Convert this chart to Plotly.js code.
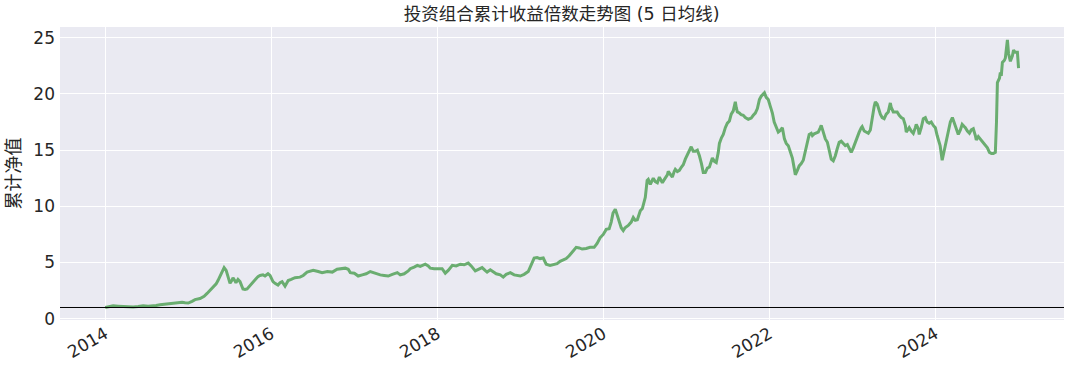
<!DOCTYPE html>
<html>
<head>
<meta charset="utf-8">
<script src="https://cdn.plot.ly/plotly-3.0.1.min.js"></script>
<style>html,body{margin:0;padding:0;background:#fff}#chart{width:1077px;height:374px}</style>
</head>
<body>
<div id="chart"></div>
<script>
// Decimal-year time stamps
const years = [
2014.000,2014.048,2014.096,2014.157,2014.217,2014.277,2014.337,2014.398,2014.458,2014.518,
2014.566,2014.614,2014.663,2014.723,2014.783,2014.831,2014.880,2014.928,2014.964,2015.000,
2015.048,2015.084,2015.145,2015.193,2015.229,2015.265,2015.301,2015.337,2015.361,2015.386,
2015.410,2015.434,2015.458,2015.482,2015.506,2015.530,2015.542,2015.566,2015.578,2015.602,
2015.627,2015.663,2015.687,2015.711,2015.747,2015.783,2015.807,2015.843,2015.867,2015.904,
2015.928,2015.964,2015.988,2016.024,2016.048,2016.084,2016.108,2016.133,2016.169,2016.205,
2016.241,2016.289,2016.349,2016.386,2016.434,2016.506,2016.566,2016.614,2016.675,2016.735,
2016.795,2016.843,2016.892,2016.928,2016.952,2017.000,2017.048,2017.096,2017.145,2017.193,
2017.241,2017.277,2017.313,2017.361,2017.410,2017.458,2017.518,2017.554,2017.602,2017.651,
2017.675,2017.723,2017.759,2017.795,2017.831,2017.855,2017.892,2017.916,2017.964,2018.012,
2018.060,2018.096,2018.133,2018.181,2018.229,2018.277,2018.325,2018.373,2018.410,2018.458,
2018.494,2018.542,2018.578,2018.602,2018.639,2018.675,2018.711,2018.759,2018.795,2018.831,
2018.880,2018.928,2018.964,2019.000,2019.048,2019.096,2019.133,2019.169,2019.205,2019.241,
2019.277,2019.313,2019.361,2019.410,2019.446,2019.482,2019.518,2019.554,2019.590,2019.639,
2019.675,2019.711,2019.747,2019.795,2019.843,2019.892,2019.928,2019.964,2020.000,2020.036,
2020.072,2020.096,2020.120,2020.145,2020.169,2020.193,2020.217,2020.241,2020.265,2020.301,
2020.337,2020.361,2020.386,2020.410,2020.446,2020.470,2020.506,2020.530,2020.542,2020.566,
2020.590,2020.602,2020.627,2020.651,2020.675,2020.699,2020.711,2020.735,2020.747,2020.771,
2020.783,2020.807,2020.831,2020.855,2020.867,2020.892,2020.916,2020.940,2020.964,2020.988,
2021.012,2021.036,2021.060,2021.084,2021.108,2021.133,2021.157,2021.181,2021.205,2021.229,
2021.253,2021.277,2021.301,2021.313,2021.337,2021.361,2021.386,2021.398,2021.422,2021.446,
2021.470,2021.494,2021.518,2021.542,2021.566,2021.578,2021.590,2021.602,2021.614,2021.639,
2021.663,2021.687,2021.711,2021.747,2021.783,2021.807,2021.831,2021.855,2021.880,2021.904,
2021.928,2021.940,2021.964,2021.988,2022.012,2022.036,2022.060,2022.084,2022.108,2022.133,
2022.157,2022.181,2022.205,2022.229,2022.253,2022.277,2022.301,2022.313,2022.337,2022.361,
2022.386,2022.410,2022.434,2022.458,2022.482,2022.506,2022.518,2022.542,2022.566,2022.590,
2022.614,2022.627,2022.651,2022.675,2022.699,2022.723,2022.747,2022.771,2022.795,2022.819,
2022.843,2022.867,2022.892,2022.916,2022.940,2022.964,2022.988,2023.012,2023.036,2023.060,
2023.084,2023.108,2023.120,2023.145,2023.169,2023.193,2023.217,2023.241,2023.265,2023.277,
2023.301,2023.313,2023.337,2023.361,2023.386,2023.410,2023.434,2023.458,2023.470,2023.494,
2023.518,2023.542,2023.566,2023.590,2023.614,2023.639,2023.651,2023.675,2023.687,2023.711,
2023.735,2023.759,2023.771,2023.795,2023.807,2023.831,2023.855,2023.880,2023.904,2023.928,
2023.952,2023.976,2024.000,2024.024,2024.048,2024.060,2024.084,2024.108,2024.120,2024.145,
2024.169,2024.181,2024.205,2024.229,2024.241,2024.265,2024.277,2024.301,2024.325,2024.349,
2024.361,2024.386,2024.410,2024.434,2024.458,2024.482,2024.494,2024.518,2024.530,2024.554,
2024.578,2024.602,2024.627,2024.651,2024.675,2024.699,2024.723,2024.735,2024.747,2024.771,
2024.783,2024.795,2024.807,2024.831,2024.843,2024.867,2024.880,2024.904,2024.928,2024.940,
2024.964,2024.988,2025.000
];

// Growth multiple (5-day smoothed)
const values = [
1.00,1.10,1.15,1.12,1.08,1.05,1.05,1.08,1.15,1.12,
1.12,1.18,1.25,1.30,1.35,1.33,1.38,1.47,1.42,1.40,
1.55,1.70,1.80,2.00,2.25,2.50,2.80,3.10,3.40,3.75,
4.15,4.55,4.30,3.80,3.15,3.45,3.65,3.35,3.20,3.50,
3.30,2.65,2.60,2.65,2.95,3.20,3.40,3.75,3.85,3.90,
3.80,4.00,3.85,3.30,3.15,3.00,3.20,3.30,2.90,3.40,
3.50,3.65,3.70,3.85,4.15,4.30,4.20,4.10,4.20,4.15,
4.40,4.45,4.50,4.40,4.10,4.05,3.80,3.90,4.00,4.20,
4.10,3.95,3.90,3.85,3.80,3.95,4.10,3.90,4.00,4.25,
4.45,4.60,4.75,4.65,4.75,4.85,4.70,4.50,4.45,4.45,
4.45,4.05,4.30,4.75,4.70,4.85,4.80,4.95,4.70,4.25,
4.35,4.55,4.30,4.15,4.35,4.20,4.00,3.90,3.70,3.95,
4.10,3.90,3.85,3.80,3.95,4.20,4.80,5.40,5.45,5.35,
5.40,4.85,4.75,4.85,4.90,5.10,5.25,5.35,5.60,6.00,
6.35,6.30,6.20,6.25,6.35,6.35,6.70,7.20,7.50,7.95,
8.00,8.60,9.40,9.75,9.30,8.70,8.10,7.85,8.10,8.30,
8.60,9.00,8.75,8.80,9.60,9.80,10.80,12.30,12.40,11.95,
12.40,12.50,12.20,12.10,12.60,12.30,12.10,12.40,12.50,12.80,
13.10,12.80,12.60,13.10,13.30,13.10,13.20,13.50,13.70,14.20,
14.60,14.90,15.30,14.90,14.90,15.00,14.50,13.80,13.00,13.00,
13.40,13.50,14.10,14.30,14.00,13.90,14.80,15.60,16.10,16.40,
17.00,17.40,17.60,18.20,18.50,19.00,19.30,18.80,18.40,18.30,
18.15,18.10,17.90,17.75,17.85,18.10,18.30,18.70,19.50,19.80,
20.00,20.10,19.70,19.50,18.90,18.30,17.50,17.00,16.60,16.75,
17.00,16.00,15.60,15.40,14.90,14.30,13.40,12.80,13.20,13.60,
13.80,14.10,14.90,15.60,16.40,16.50,16.30,16.45,16.50,16.60,
17.00,17.20,16.60,16.00,15.70,14.90,14.20,14.05,14.50,15.10,
15.70,15.80,15.60,15.40,15.50,15.20,14.80,15.20,15.70,16.20,
16.60,17.00,17.10,16.70,16.60,16.50,16.80,17.90,18.90,19.30,
19.10,18.80,18.20,17.90,17.80,18.20,18.40,19.20,18.80,18.40,
18.40,18.40,18.10,17.90,17.80,17.20,16.60,16.90,17.00,16.70,
16.50,17.00,17.30,16.90,16.40,17.00,17.80,17.90,17.50,17.40,
17.50,17.20,17.00,16.30,15.70,15.40,14.10,15.00,15.40,16.30,
17.10,17.50,17.90,17.40,17.10,16.60,16.40,16.80,17.30,17.10,
17.00,16.70,16.50,16.80,16.90,16.30,15.90,16.20,16.10,15.90,
15.70,15.40,15.20,14.80,14.70,14.70,14.80,17.50,21.00,21.40,
21.90,21.60,22.80,23.00,23.20,24.80,23.60,22.90,23.40,23.90,
23.70,23.70,22.30
];

const tickYears = [2014, 2016, 2018, 2020, 2022, 2024];
const yTicks = [0, 5, 10, 15, 20, 25];
const baseline = 1;
const titleText = '投资组合累计收益倍数走势图 (5 日均线)';
const yTitleText = '累计净值';

function yearToDate(y) {
  const yr = Math.floor(y);
  const start = Date.UTC(yr, 0, 1);
  const end = Date.UTC(yr + 1, 0, 1);
  const t = start + (y - yr) * (end - start);
  return new Date(t).toISOString().slice(0, 10);
}

const dates = years.map(yearToDate);
const FONT = 'DejaVu Sans, "Noto Sans CJK SC", sans-serif';

const trace = {
  x: dates,
  y: values,
  type: 'scatter',
  mode: 'lines',
  line: {color: 'rgb(106,173,112)', width: 3},
  hoverinfo: 'x+y'
};

const layout = {
  width: 1077,
  height: 374,
  margin: {l: 60, r: 13, t: 27, b: 54, pad: 0},
  paper_bgcolor: '#ffffff',
  plot_bgcolor: '#EAEAF2',
  showlegend: false,
  font: {family: FONT, color: '#262626', size: 17},
  title: {
    text: titleText,
    font: {family: FONT, size: 17.5, color: '#262626'},
    x: 0.5215, xanchor: 'center', y: 0.962, yanchor: 'middle'
  },
  xaxis: {
    type: 'date',
    range: [yearToDate(2013.455), yearToDate(2025.55)],
    tickvals: tickYears.map(y => yearToDate(y)),
    ticktext: tickYears.map(String),
    tickangle: -30,
    showgrid: true,
    gridcolor: '#ffffff',
    gridwidth: 1,
    zeroline: false,
    showline: false,
    ticks: '',
    tickfont: {family: FONT, size: 17, color: '#262626'}
  },
  yaxis: {
    range: [-0.113, 25.957],
    tickvals: yTicks,
    ticktext: yTicks.map(String),
    showgrid: true,
    gridcolor: '#ffffff',
    gridwidth: 1,
    zeroline: false,
    showline: false,
    ticks: '',
    ticklabelstandoff: 4,
    tickfont: {family: FONT, size: 17, color: '#262626'},
    title: {text: yTitleText, font: {family: FONT, size: 18, color: '#262626'}, standoff: 8}
  },
  shapes: [{
    type: 'line', xref: 'paper', x0: 0, x1: 1, yref: 'y', y0: baseline, y1: baseline,
    line: {color: '#000000', width: 1}
  }]
};

Plotly.newPlot('chart', [trace], layout, {displayModeBar: false, staticPlot: true});
</script>
</body>
</html>
